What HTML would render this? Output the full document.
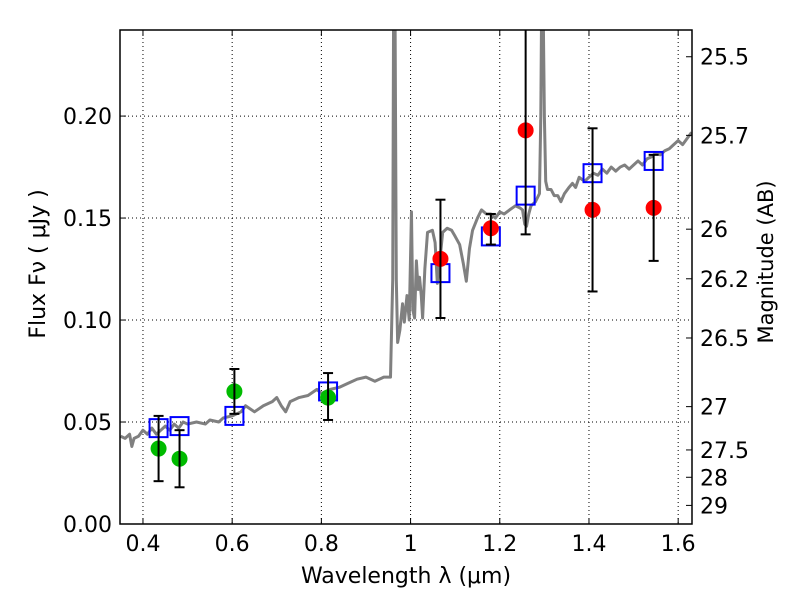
<!DOCTYPE html>
<html><head><meta charset="utf-8"><style>
html,body{margin:0;padding:0;background:#fff}
svg text{font-family:"DejaVu Sans","Liberation Sans",sans-serif}
</style></head><body>
<svg id="chart" width="800" height="600" viewBox="0 0 800 600" xmlns="http://www.w3.org/2000/svg">
<rect x="0" y="0" width="800" height="600" fill="#fff"/>
<g id="grid"></g><g id="spec"></g><g id="marks"></g><g id="axes"></g>
</svg>
<script>
const specLam=[0.35,0.36,0.37,0.375,0.38,0.39,0.40,0.41,0.42,0.43,0.44,0.45,0.46,0.47,0.48,0.49,0.50,0.52,0.54,0.55,0.57,0.58,0.60,0.62,0.63,0.65,0.67,0.69,0.70,0.71,0.72,0.73,0.75,0.77,0.79,0.80,0.82,0.84,0.86,0.88,0.90,0.92,0.94,0.955,0.96,0.962,0.965,0.968,0.971,0.976,0.982,0.986,0.992,0.997,1.002,1.005,1.009,1.013,1.017,1.02,1.024,1.027,1.032,1.038,1.049,1.055,1.06,1.066,1.072,1.082,1.092,1.10,1.11,1.118,1.125,1.132,1.139,1.15,1.159,1.17,1.18,1.19,1.20,1.21,1.222,1.235,1.245,1.251,1.256,1.26,1.265,1.27,1.28,1.289,1.292,1.294,1.297,1.30,1.303,1.307,1.315,1.322,1.33,1.337,1.345,1.355,1.363,1.37,1.378,1.39,1.40,1.41,1.42,1.43,1.44,1.45,1.46,1.47,1.48,1.49,1.50,1.51,1.52,1.53,1.54,1.55,1.56,1.57,1.58,1.59,1.60,1.61,1.62,1.63];
const specFlux=[0.043,0.042,0.044,0.038,0.042,0.043,0.046,0.044,0.047,0.044,0.046,0.048,0.046,0.049,0.047,0.050,0.049,0.050,0.049,0.051,0.050,0.052,0.053,0.055,0.058,0.055,0.058,0.060,0.062,0.058,0.055,0.060,0.062,0.063,0.066,0.064,0.066,0.067,0.069,0.071,0.072,0.070,0.072,0.072,0.12,0.26,0.26,0.12,0.089,0.095,0.108,0.099,0.112,0.100,0.153,0.105,0.101,0.129,0.115,0.121,0.112,0.101,0.125,0.143,0.144,0.138,0.118,0.130,0.143,0.145,0.144,0.141,0.137,0.128,0.119,0.135,0.144,0.150,0.154,0.152,0.152,0.150,0.153,0.152,0.154,0.156,0.155,0.154,0.147,0.146,0.152,0.156,0.158,0.162,0.20,0.26,0.26,0.20,0.168,0.164,0.164,0.161,0.161,0.158,0.162,0.165,0.167,0.165,0.170,0.168,0.170,0.172,0.171,0.174,0.172,0.175,0.173,0.175,0.176,0.174,0.176,0.178,0.176,0.179,0.180,0.182,0.181,0.183,0.184,0.186,0.188,0.186,0.189,0.192];
const photLam=[0.435,0.482,0.605,0.815,1.067,1.18,1.258,1.408,1.545];
const photFlux=[0.037,0.032,0.065,0.062,0.130,0.145,0.193,0.154,0.155];
const photLo=[0.021,0.018,0.054,0.051,0.101,0.137,0.142,0.114,0.129];
const photHi=[0.053,0.046,0.076,0.074,0.159,0.152,0.30,0.194,0.181];
const photColor=['#00bb00','#00bb00','#00bb00','#00bb00','#ff0000','#ff0000','#ff0000','#ff0000','#ff0000'];
const modelFlux=[0.047,0.048,0.053,0.065,0.123,0.141,0.161,0.172,0.178];
const xTicks=[0.4,0.6,0.8,1.0,1.2,1.4,1.6];
const xTickLabels=['0.4','0.6','0.8','1','1.2','1.4','1.6'];
const yTicks=[0,0.05,0.10,0.15,0.20];
const yTickLabels=['0.00','0.05','0.10','0.15','0.20'];
const magTicks=[25.5,25.7,26,26.2,26.5,27,27.5,28,29];
const magTickLabels=['25.5','25.7','26','26.2','26.5','27','27.5','28','29'];

const L=120,R=692,T=30,B=524,X0=0.3485,X1=1.631,Y0=0,Y1=0.2422;
const sx=v=>L+(v-X0)/(X1-X0)*(R-L);
const sy=v=>B-(v-Y0)/(Y1-Y0)*(B-T);
const NS='http://www.w3.org/2000/svg';
function mk(tag,parent,attrs,text){const e=document.createElementNS(NS,tag);for(const k in attrs)e.setAttribute(k,attrs[k]);if(text!==undefined)e.textContent=text;document.getElementById(parent).appendChild(e);return e;}

const defs=document.createElementNS(NS,'defs');defs.innerHTML='<clipPath id="pc"><rect x="120" y="30" width="572" height="494"/></clipPath>';document.getElementById('chart').prepend(defs);
document.getElementById('spec').setAttribute('clip-path','url(#pc)');
document.getElementById('marks').setAttribute('clip-path','url(#pc)');

xTicks.forEach((t,i)=>{
  const g=mk('line','grid',{x1:sx(t),x2:sx(t),y1:T,y2:B,stroke:'#000','stroke-width':1,'stroke-dasharray':'1,3'});
  
  mk('line','axes',{x1:sx(t),x2:sx(t),y1:B,y2:B-6,stroke:'#000'});
  mk('line','axes',{x1:sx(t),x2:sx(t),y1:T,y2:T+6,stroke:'#000'});
  const tl=mk('text','axes',{x:sx(t),y:B+27,'font-size':22,'text-anchor':'middle'},xTickLabels[i]);
  
});
yTicks.forEach((t,i)=>{
  if(t>0){const g=mk('line','grid',{x1:L,x2:R,y1:sy(t),y2:sy(t),stroke:'#000','stroke-width':1,'stroke-dasharray':'1,3'});
  }
  mk('line','axes',{x1:L,x2:L+6,y1:sy(t),y2:sy(t),stroke:'#000'});
  const tl=mk('text','axes',{x:L-8,y:sy(t)+8,'font-size':22,'text-anchor':'end'},yTickLabels[i]);
  
});
magTicks.forEach((m,i)=>{
  const f=Math.pow(10,(23.9-m)/2.5);const y=sy(f);
  mk('line','axes',{x1:R,x2:R-6,y1:y,y2:y,stroke:'#000'});
  const tl=mk('text','axes',{x:R+8,y:y+8,'font-size':22},magTickLabels[i]);
  
});

const sp=mk('polyline','spec',{points:specLam.map((l,i)=>sx(l)+','+sy(specFlux[i])).join(' '),fill:'none',stroke:'#808080','stroke-width':3,'stroke-linejoin':'round'});


photLam.forEach((l,i)=>{
  const s=mk('rect','marks',{x:sx(l)-9,y:sy(modelFlux[i])-9,width:18,height:18,fill:'none',stroke:'#0000ff','stroke-width':2});
  
});
photLam.forEach((l,i)=>{
  const x=sx(l);
  const c=mk('circle','marks',{cx:x,cy:sy(photFlux[i]),r:8,fill:photColor[i]});
  
  const e=mk('line','marks',{x1:x,x2:x,y1:sy(photLo[i]),y2:sy(photHi[i]),stroke:'#000','stroke-width':2});
  
  mk('line','marks',{x1:x-5,x2:x+5,y1:sy(photLo[i]),y2:sy(photLo[i]),stroke:'#000','stroke-width':2});
  mk('line','marks',{x1:x-5,x2:x+5,y1:sy(photHi[i]),y2:sy(photHi[i]),stroke:'#000','stroke-width':2});
});

const fr=mk('rect','axes',{x:L,y:T,width:R-L,height:B-T,fill:'none',stroke:'#000','stroke-width':1.5});

const xl=mk('text','axes',{x:406,y:583,'font-size':22,'text-anchor':'middle'},'Wavelength  λ (μm)');

const yl=mk('text','axes',{x:0,y:0,'font-size':22,'text-anchor':'middle',transform:'translate(45,264) rotate(-90)'},'Flux  Fν  (  μJy )');

const ml=mk('text','axes',{x:0,y:0,'font-size':21,'text-anchor':'middle',transform:'translate(773,262) rotate(-90)'},'Magnitude (AB)');

</script>
</body></html>
